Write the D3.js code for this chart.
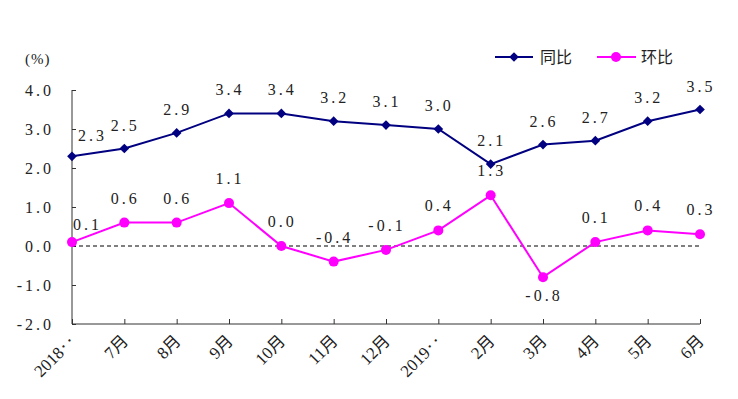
<!DOCTYPE html>
<html>
<head>
<meta charset="utf-8">
<script src="https://cdn.jsdelivr.net/npm/d3@7"></script>
<style>
  body { margin: 0; background: #fff; }
  text { font-family: "Liberation Serif", "Noto Sans CJK SC", serif; fill: #222; }
</style>
</head>
<body>
<div id="demo"></div>
<script>
// data
let months = ["2018‥", "7月", "8月", "9月", "10月", "11月", "12月", "2019‥", "2月", "3月", "4月", "5月", "6月"];
let tongbi = [2.3, 2.5, 2.9, 3.4, 3.4, 3.2, 3.1, 3.0, 2.1, 2.6, 2.7, 3.2, 3.5];
let huanbi = [0.1, 0.6, 0.6, 1.1, 0.0, -0.4, -0.1, 0.4, 1.3, -0.8, 0.1, 0.4, 0.3];
let yTicks = [-2, -1, 0, 1, 2, 3, 4];
let seriesNames = ["同比", "环比"];

let W = 738, H = 399;
let m = {top: 90, right: 38, bottom: 75, left: 72};
let w = W - m.left - m.right;
let h = H - m.top - m.bottom;

let svg = d3.select("#demo")
    .append("svg")
    .attr("width", W)
    .attr("height", H)
    .append("g")
    .attr("transform", "translate(" + m.left + "," + m.top + ")");

let x = d3.scalePoint()
    .domain(months)
    .range([0, w])
    .padding(0);

let y = d3.scaleLinear()
    .domain([-2, 4])
    .range([h, 0]);

let fmt = v => d3.format(".1f")(v).replace("−", "-");

// y axis, ticks pointing inwards
let yAxis = svg.append("g")
    .call(d3.axisRight(y).tickValues(yTicks).tickSize(4).tickFormat(fmt));
yAxis.select(".domain").attr("d", "M0,0V" + h).attr("stroke", "#333");
yAxis.selectAll(".tick line").attr("stroke", "#333");
yAxis.selectAll(".tick text")
    .attr("x", -18)
    .attr("text-anchor", "end")
    .style("font-size", "16px")
    .style("letter-spacing", "3px");

// x axis, ticks pointing up
let xAxis = svg.append("g")
    .attr("transform", "translate(0," + h + ")")
    .call(d3.axisTop(x).tickSize(5).tickFormat(""));
xAxis.select(".domain").attr("d", "M0,0H" + w).attr("stroke", "#333");
xAxis.selectAll(".tick line").attr("stroke", "#333");

svg.append("g").selectAll("text")
    .data(months)
    .enter()
    .append("text")
    .attr("transform", d => "translate(" + (x(d) + 5) + "," + (h + 18) + ") rotate(-45)")
    .attr("text-anchor", "end")
    .style("font-size", "17px")
    .text(d => d);

// zero line
svg.append("line")
    .attr("x1", 0).attr("x2", w)
    .attr("y1", y(0)).attr("y2", y(0))
    .attr("stroke", "#000")
    .attr("stroke-dasharray", "4,3");

svg.append("text")
    .attr("x", -47).attr("y", -26)
    .style("font-size", "15px")
    .style("letter-spacing", "1px")
    .text("(%)");

let line = d3.line()
    .x((d, i) => x(months[i]))
    .y(d => y(d));

let diamond = d3.symbol().type(d3.symbolDiamond2).size(60);

// 同比
svg.append("path")
    .datum(tongbi)
    .attr("d", line)
    .attr("fill", "none")
    .attr("stroke", "#000080")
    .attr("stroke-width", 2);
svg.append("g").selectAll("path")
    .data(tongbi)
    .enter()
    .append("path")
    .attr("d", diamond)
    .attr("transform", (d, i) => "translate(" + x(months[i]) + "," + y(d) + ")")
    .attr("fill", "#000080");
svg.append("g").selectAll("text")
    .data(tongbi)
    .enter()
    .append("text")
    .attr("x", (d, i) => i == 0 ? x(months[i]) + 6 : x(months[i]) + 1)
    .attr("y", (d, i) => y(d) - (i == 0 ? 15 : 18))
    .attr("text-anchor", (d, i) => i == 0 ? "start" : "middle")
    .style("font-size", "16px")
    .style("letter-spacing", "3px")
    .text(d => fmt(d));

// 环比
svg.append("path")
    .datum(huanbi)
    .attr("d", line)
    .attr("fill", "none")
    .attr("stroke", "#ff00ff")
    .attr("stroke-width", 2);
svg.append("g").selectAll("circle")
    .data(huanbi)
    .enter()
    .append("circle")
    .attr("cx", (d, i) => x(months[i]))
    .attr("cy", d => y(d))
    .attr("r", 5)
    .attr("fill", "#ff00ff");
svg.append("g").selectAll("text")
    .data(huanbi)
    .enter()
    .append("text")
    .attr("x", (d, i) => x(months[i]) + 1)
    .attr("y", (d, i) => d < -0.5 ? y(d) + 24 : y(d) - (i == 0 ? 12 : 19))
    .attr("text-anchor", (d, i) => i == 0 ? "start" : "middle")
    .style("font-size", "16px")
    .style("letter-spacing", "3px")
    .text(d => fmt(d));

// legend
let legend = svg.append("g").attr("transform", "translate(" + (495 - m.left) + "," + (57 - m.top) + ")");
legend.append("line").attr("x1", 0).attr("x2", 38).attr("stroke", "#000080").attr("stroke-width", 2);
legend.append("path").attr("d", diamond).attr("transform", "translate(19,0)").attr("fill", "#000080");
legend.append("text").attr("x", 45).attr("y", 6).style("font-size", "16px").text(seriesNames[0]);
legend.append("line").attr("x1", 102).attr("x2", 141).attr("stroke", "#ff00ff").attr("stroke-width", 2);
legend.append("circle").attr("cx", 121).attr("cy", 0).attr("r", 5).attr("fill", "#ff00ff");
legend.append("text").attr("x", 146).attr("y", 6).style("font-size", "16px").text(seriesNames[1]);
</script>
</body>
</html>
